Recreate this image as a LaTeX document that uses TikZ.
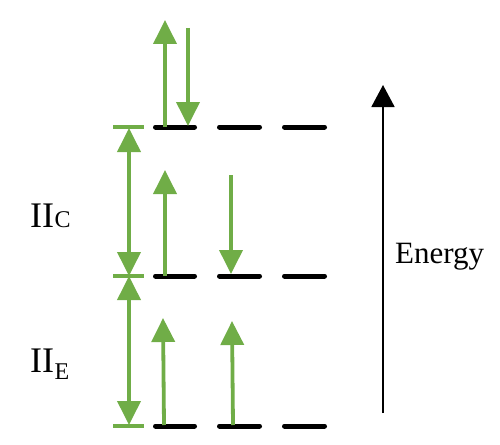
\documentclass[tikz,border=0pt]{standalone}
\usepackage{fontspec}
\setmainfont{Liberation Serif}
\usetikzlibrary{arrows.meta}
\definecolor{egreen}{HTML}{70AD47}
\tikzset{
  level/.style={line width=5pt, black, line cap=round},
  spin/.style={line width=3.8pt, egreen, -{Triangle[width=23pt,length=24pt]}},
  span/.style={line width=3.8pt, egreen, {Triangle[width=23pt,length=24pt]}-{Triangle[width=23pt,length=24pt]}},
  bar/.style={line width=3.5pt, egreen},
  axis/.style={line width=1.8pt, black, -{Triangle[width=23pt,length=22pt]}},
  lbl/.style={inner sep=0pt, anchor=base west}
}
\begin{document}
\begin{tikzpicture}[x=1pt,y=-1pt]
\useasboundingbox (0,0) rectangle (500,444);
% levels
\foreach \y/\n in {127/c,276/b,426/a}{
  \coordinate (\n1l) at (155.5,\y); \coordinate (\n1r) at (194.5,\y);
  \coordinate (\n2l) at (219.5,\y); \coordinate (\n2r) at (259.5,\y);
  \coordinate (\n3l) at (284.5,\y); \coordinate (\n3r) at (324.5,\y);
  \draw[level] (\n1l) -- (\n1r);
  \draw[level] (\n2l) -- (\n2r);
  \draw[level] (\n3l) -- (\n3r);
  \coordinate (bl\n) at (113,\y); \coordinate (br\n) at (144,\y);
  \draw[bar] (bl\n) -- (br\n);
}
% brackets
\coordinate (sc) at (129,128);
\coordinate (sb) at (129,276);
\coordinate (sa) at (129,425);
\draw[span] (sc) -- (sb);
\draw[span] (sb) -- (sa);
% top level spins
\coordinate (t1s) at (165,127); \coordinate (t1e) at (165,20);
\coordinate (t2s) at (188,28);  \coordinate (t2e) at (188,126);
\draw[spin] (t1s) -- (t1e);
\draw[spin] (t2s) -- (t2e);
% middle level spins
\coordinate (m1s) at (165,276); \coordinate (m1e) at (165,170);
\coordinate (m2s) at (231,175); \coordinate (m2e) at (231,274);
\draw[spin] (m1s) -- (m1e);
\draw[spin] (m2s) -- (m2e);
% bottom level spins
\coordinate (b1s) at (164,425); \coordinate (b1e) at (163,318);
\coordinate (b2s) at (233,425); \coordinate (b2e) at (232,321);
\draw[spin] (b1s) -- (b1e);
\draw[spin] (b2s) -- (b2e);
% energy axis
\coordinate (es) at (383,413); \coordinate (ee) at (383,85);
\draw[axis] (es) -- (ee);
\node[lbl, font=\fontsize{31}{31}\selectfont] (energy) at (395,263) {Energy};
% labels
\node[lbl, font=\fontsize{36}{36}\selectfont] (iic) at (30,227) {II};
\node[lbl, font=\fontsize{24}{24}\selectfont] (iics) at (iic.base east) {C};
\node[lbl, font=\fontsize{36}{36}\selectfont] (iie) at (30,372) {II};
\node[lbl, font=\fontsize{24}{24}\selectfont] (iies) at ([yshift=-7pt]iie.base east) {E};
\end{tikzpicture}
\end{document}
